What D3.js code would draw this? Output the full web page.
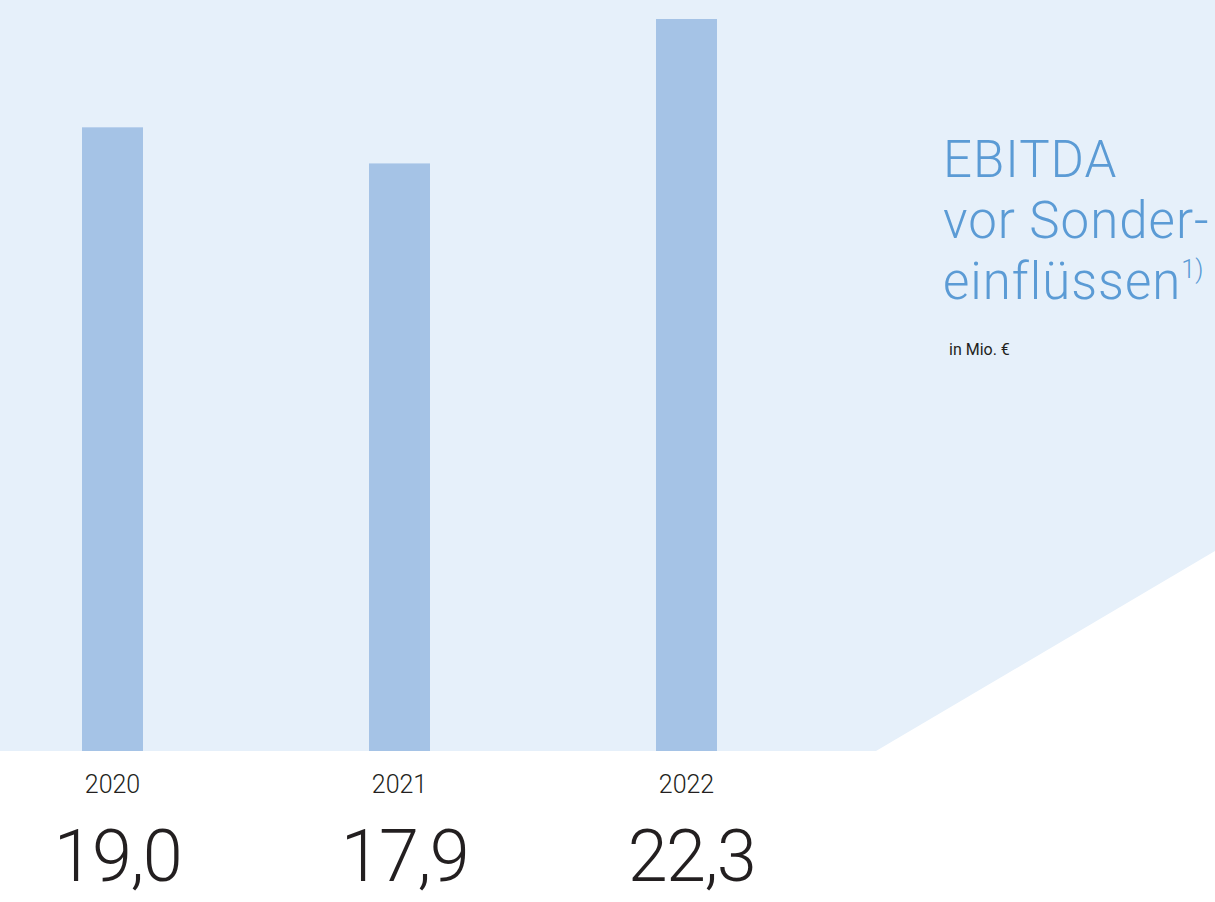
<!DOCTYPE html>
<html>
<head>
<meta charset="utf-8">
<script src="https://cdn.jsdelivr.net/npm/d3@7"></script>
<style>
  html, body { margin: 0; padding: 0; background: #fff; }
  svg { display: block; }
</style>
</head>
<body>
<svg id="chart" width="1215" height="902"></svg>
<script>
// EBITDA vor Sondereinflüssen, in Mio. €
const years = ['2020', '2021', '2022'];
const values = [19.0, 17.9, 22.3];
const titleLines = ['EBITDA', 'vor Sonder-', 'einflüssen'];
const footnote = '1)';
const unitLabel = 'in Mio. €';

const width = 1215;
const height = 902;
const baseY = 751;
const font = 'Roboto, Liberation Sans, Arial, sans-serif';

const svg = d3.select('#chart');

// light blue backdrop with the slanted cut on the right
svg.append('path')
  .attr('d', `M0,0 H${width} V551 L876,${baseY} H0 Z`)
  .attr('fill', '#e6f0fa');

const x = d3.scalePoint()
  .domain(years)
  .range([112.5, 686.5]);

const y = d3.scaleLinear()
  .domain([0, d3.max(values)])
  .range([baseY, 19]);

const barWidth = 61;
const de = d3.formatLocale({ decimal: ',', thousands: '.', grouping: [3], currency: ['', ' €'] });
const fmt = de.format('.1f');

const data = years.map((yr, i) => ({ year: yr, value: values[i] }));

svg.selectAll('rect.bar')
  .data(data)
  .enter()
  .append('rect')
  .attr('class', 'bar')
  .attr('x', d => x(d.year) - barWidth / 2)
  .attr('y', d => y(d.value))
  .attr('width', barWidth)
  .attr('height', d => y(0) - y(d.value))
  .attr('fill', '#a5c3e6');

// year labels
svg.selectAll('text.year')
  .data(data)
  .enter()
  .append('text')
  .attr('class', 'year')
  .attr('x', d => x(d.year))
  .attr('y', 793)
  .attr('text-anchor', 'middle')
  .style('font-family', font)
  .style('font-weight', 300)
  .style('font-size', '25px')
  .attr('fill', '#231f20')
  .text(d => d.year);

// value labels (kept just inside the bottom edge)
svg.selectAll('text.value')
  .data(data)
  .enter()
  .append('text')
  .attr('class', 'value')
  .attr('x', d => x(d.year) + 5)
  .attr('y', 881)
  .attr('text-anchor', 'middle')
  .style('font-family', font)
  .style('font-weight', 300)
  .style('font-size', '72px')
  .style('letter-spacing', '-1.5px')
  .attr('fill', '#231f20')
  .text(d => fmt(d.value));

// title block
const title = svg.append('text')
  .attr('x', 943)
  .attr('y', 177)
  .style('font-family', font)
  .style('font-weight', 300)
  .style('font-size', '51px')
  .style('letter-spacing', '1px')
  .attr('fill', '#5b9bd5');

titleLines.forEach((line, i) => {
  title.append('tspan')
    .attr('x', 943)
    .attr('dy', i === 0 ? 0 : 61)
    .text(line);
});

title.append('tspan')
  .attr('dy', -21)
  .style('font-size', '25px')
  .style('letter-spacing', '0px')
  .text(footnote);

svg.append('text')
  .attr('x', 949)
  .attr('y', 355)
  .style('font-family', font)
  .style('font-size', '16px')
  .attr('fill', '#231f20')
  .text(unitLabel);
</script>
</body>
</html>
